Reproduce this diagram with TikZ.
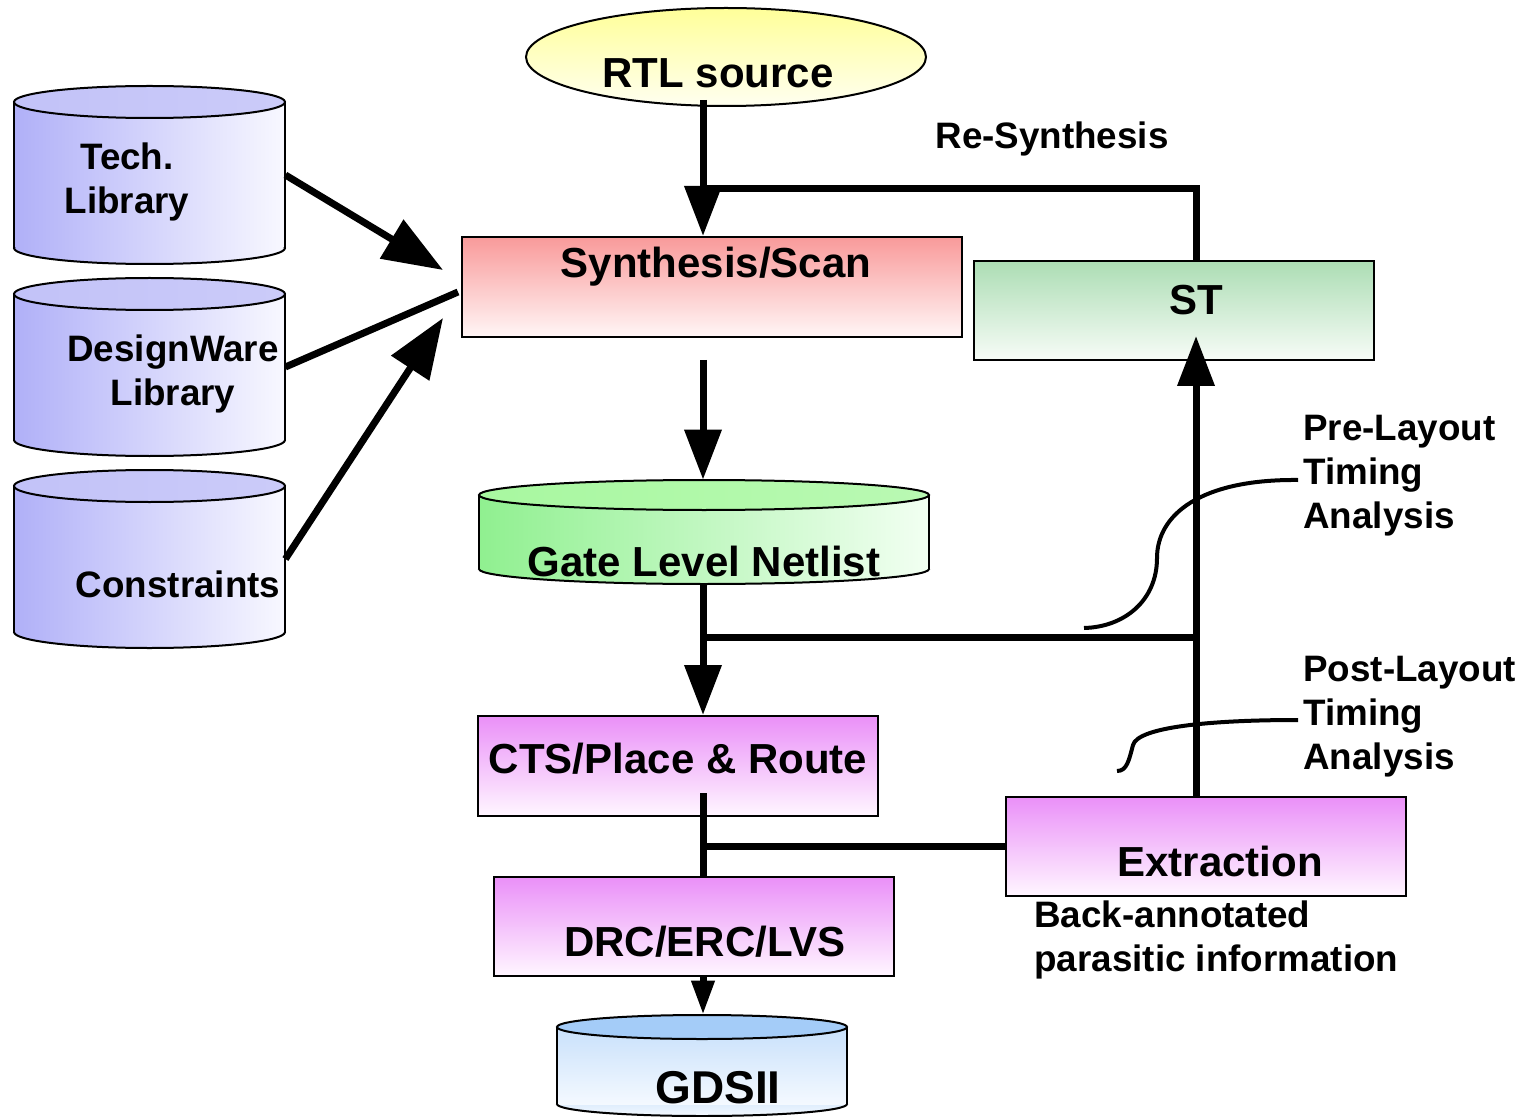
\documentclass[tikz,border=0pt]{standalone}
\usepackage{fontspec}
\setmainfont{Liberation Sans}
\usetikzlibrary{arrows.meta,fit,shapes.geometric}

\definecolor{cylL}{HTML}{B0B0F8}
\definecolor{cylR}{HTML}{F8F8FF}
\definecolor{cylTop}{HTML}{C2C2F8}
\definecolor{synTop}{HTML}{F99A9A}
\definecolor{synBot}{HTML}{FFF6F6}
\definecolor{stTop}{HTML}{ACDDB4}
\definecolor{stBot}{HTML}{F7FCF7}
\definecolor{glnL}{HTML}{90F090}
\definecolor{glnR}{HTML}{F2FFF2}
\definecolor{glnTop}{HTML}{A8F8A0}
\definecolor{vTop}{HTML}{EA90F8}
\definecolor{vBot}{HTML}{FFF6FF}
\definecolor{gdsTop}{HTML}{A4CCF8}
\definecolor{gdsBot}{HTML}{F4F9FF}
\definecolor{rtlTop}{HTML}{FFFF99}
\definecolor{rtlBot}{HTML}{FFFFF0}

\newcommand\cylshape[7]{%
  \pgfmathsetmacro\cylcx{(#1+#2)/2}%
  \pgfmathsetmacro\cylca{(#2-#1)/2}%
  \shade[#6] (\cylcx,#4) ellipse ({\cylca} and #5);
  \shade[#6] (#1,#3) rectangle (#2,#4);
  \begin{scope}
    \clip (#1-5,#4) rectangle (#2+5,#4+#5+5);
    \draw[line width=1pt] (\cylcx,#4) ellipse ({\cylca} and #5);
  \end{scope}
  \draw[line width=1pt] (#1,#3) -- (#1,#4) (#2,#3) -- (#2,#4);
  \shade[#7] (\cylcx,#3) ellipse ({\cylca} and #5);
  \draw[line width=1pt] (\cylcx,#3) ellipse ({\cylca} and #5);
}

\tikzset{
  conn/.style={line width=3.5pt},
  bigarrow/.style={conn,-{Triangle[width=18pt,length=25pt]}},
  slantarrow/.style={conn,-{Triangle[width=22pt,length=30pt]}},
  smallarrow/.style={conn,-{Triangle[width=11pt,length=17pt]}},
  callout/.style={line width=2pt},
  boxs/.style={draw, line width=1pt, inner sep=0pt},
  violetbox/.style={boxs, top color=vTop, bottom color=vBot},
  region/.style={inner sep=0pt},
  big/.style={font=\bfseries\fontsize{21}{25}\selectfont, inner sep=0pt},
  small/.style={font=\bfseries\fontsize{18.4}{22}\selectfont, inner sep=0pt},
}

\begin{document}
\begin{tikzpicture}[x=0.5pt,y=-0.5pt]
\useasboundingbox (0,0) rectangle (1530,1117);

% cylinders
\cylshape{14}{285}{102}{248}{16}{left color=cylL,right color=cylR}{left color=cylTop,right color=cylTop!85!white}
\cylshape{14}{285}{294}{440}{16}{left color=cylL,right color=cylR}{left color=cylTop,right color=cylTop!85!white}
\cylshape{14}{285}{486}{632}{16}{left color=cylL,right color=cylR}{left color=cylTop,right color=cylTop!85!white}
\cylshape{479}{929}{495}{569}{15}{left color=glnL,right color=glnR}{left color=glnTop,right color=glnTop!80!white}
\cylshape{557}{847}{1027}{1104}{12}{top color=gdsTop!60!white,bottom color=gdsBot}{top color=gdsTop,bottom color=gdsTop}

\node[region, fit={(14,86)(285,264)}] (tech) {};
\node[region, fit={(14,278)(285,456)}] (dw) {};
\node[region, fit={(14,470)(285,648)}] (cons) {};
\node[region, fit={(479,480)(929,584)}] (gln) {};
\node[region, fit={(557,1015)(847,1116)}] (gds) {};

% boxes
\node[ellipse, draw, line width=1pt, top color=rtlTop, bottom color=rtlBot,
      minimum width=200pt, minimum height=49pt, inner sep=0pt] (rtl) at (726,57) {};
\node[boxs, fit={(462,237)(962,337)}, top color=synTop, bottom color=synBot] (syn) {};
\node[boxs, fit={(974,261)(1374,360)}, top color=stTop, bottom color=stBot] (st) {};
\node[violetbox, fit={(478,716)(878,816)}] (cts) {};
\node[violetbox, fit={(494,877)(894,976)}] (drc) {};
\node[violetbox, fit={(1006,797)(1406,896)}] (ext) {};

% texts
\node[big, anchor=base] (rtlT) at (718,88) {RTL source};
\node[small, anchor=base] (rsT) at (1052,149) {Re-Synthesis};
\node[big, anchor=base] (synT) at (716,278) {Synthesis/Scan};
\node[big, anchor=base] (stT) at (1196,315) {ST};
\node[small, align=center, anchor=base] (techT) at (127,214) {Tech.\\Library};
\node[small, align=center, anchor=base] (dwT) at (173,406) {DesignWare\\Library};
\node[small, anchor=base] (consT) at (178,597) {Constraints};
\node[big, anchor=base] (glnT) at (704,576) {Gate Level Netlist};
\node[big, anchor=base] (ctsT) at (678,773) {CTS/Place \& Route};
\node[big, anchor=base] (extT) at (1220,876) {Extraction};
\node[big, anchor=base] (drcT) at (705,956) {DRC/ERC/LVS};
\node[big, anchor=base, font=\bfseries\fontsize{23}{27}\selectfont] (gdsT) at (718,1103) {GDSII};
\node[small, align=left, anchor=base west] (preT) at (1303,528) {Pre-Layout\\Timing\\Analysis};
\node[small, align=left, anchor=base west] (postT) at (1303,769) {Post-Layout\\Timing\\Analysis};
\node[small, align=left, anchor=base west] (baT) at (1034,971) {Back-annotated\\parasitic information};

% helper coordinates
\coordinate (j1) at (703,100);
\coordinate (rs) at (703,189);
\coordinate (vx) at (1196,0);
\coordinate (tipA) at (443,270);
\coordinate (endB) at (458,292);
\coordinate (tipC) at (443,318);
\coordinate (s2) at (703,360);
\coordinate (h1) at (703,637);
\coordinate (sttip) at (1196,336);
\coordinate (c1) at (703,793);
\coordinate (p1) at (1298,480);
\coordinate (p2) at (1084,628);
\coordinate (q1) at (1298,720);
\coordinate (q2) at (1117,771);

% connectors
\draw[bigarrow] (j1) -- (j1 |- syn.north);
\draw[conn] (st.north -| vx) |- (rs);
\draw[slantarrow] (tech.east) -- (tipA);
\draw[conn] (dw.east) -- (endB);
\draw[slantarrow] (cons.east) -- (tipC);
\draw[bigarrow] (s2) -- (s2 |- gln.north);
\draw[bigarrow] (gln.south -| j1) -- (cts.north -| j1);
\draw[conn] (h1) -- (h1 -| vx);
\draw[bigarrow] (ext.north -| vx) -- (sttip);
\draw[conn] (c1) -- (drc.north -| c1);
\draw[conn] (c1 |- ext.west) -- (ext.west);
\draw[smallarrow] (drc.south -| c1) -- (gds.north -| c1);

% callouts
\draw[callout] (p1) .. controls (1200,479) and (1157,515) .. (1157,558)
                    .. controls (1157,600) and (1125,627) .. (p2);
\draw[callout] (q1) .. controls (1210,720) and (1138,727) .. (1133,745)
                    .. controls (1129,760) and (1127,771) .. (q2);
\end{tikzpicture}
\end{document}
